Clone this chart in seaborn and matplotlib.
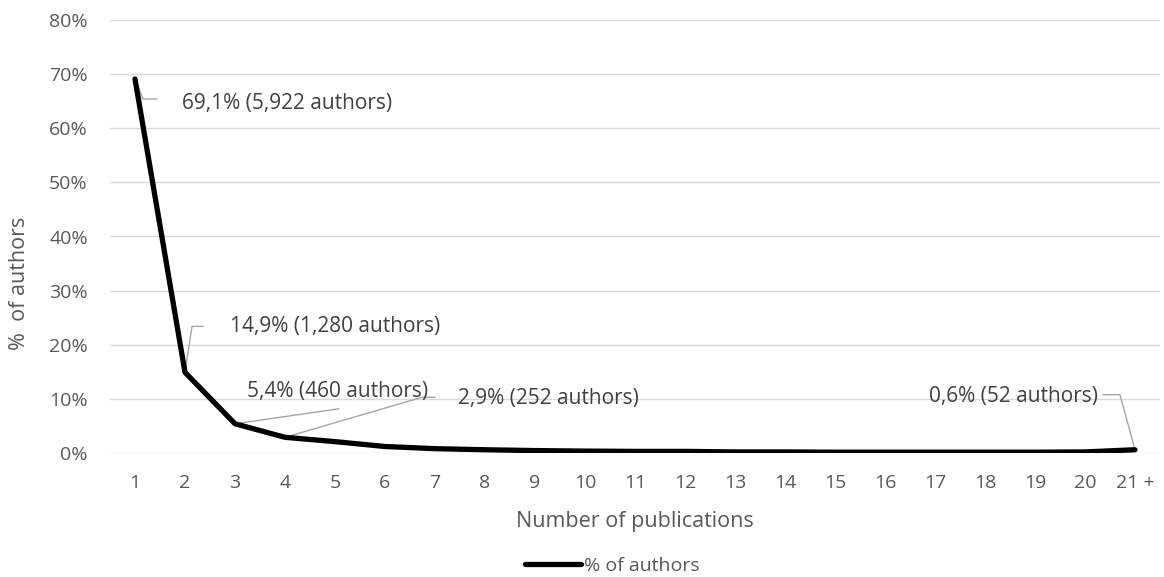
import matplotlib
matplotlib.use("Agg")
import matplotlib.pyplot as plt
import matplotlib.ticker as mticker
import seaborn as sns
import pandas as pd

# Share of authors by number of publications
categories = [str(i) for i in range(1, 21)] + ["21 +"]
share_pct = [69.1, 14.9, 5.4, 2.9, 2.1, 1.2, 0.8, 0.6, 0.45, 0.35,
             0.3, 0.3, 0.2, 0.2, 0.15, 0.15, 0.15, 0.15, 0.15, 0.2, 0.6]
author_counts = {0: 5922, 1: 1280, 2: 460, 3: 252, 20: 52}

df = pd.DataFrame({"Number of publications": categories, "% of authors": share_pct})

sns.set_theme(style="white")
plt.rcParams["font.family"] = ["Open Sans", "DejaVu Sans"]

TEXT = "#595959"
LABEL = "#404040"
LEADER = "#a6a6a6"

W, H = 1164, 577
fig = plt.figure(figsize=(W / 100, H / 100), dpi=100)
ax = fig.add_axes([110 / W, 1 - 453 / H, 1050 / W, 433 / H])

sns.lineplot(data=df, x="Number of publications", y="% of authors", sort=False,
             color="black", linewidth=3.8, ax=ax, label="% of authors",
             solid_joinstyle="round", solid_capstyle="round")

ax.set_xlim(-0.5, len(categories) - 0.5)
ax.set_ylim(0, 80)
ax.yaxis.set_major_locator(mticker.MultipleLocator(10))
ax.yaxis.set_major_formatter(mticker.FuncFormatter(lambda v, p: f"{v:.0f}%"))
ax.grid(axis="y", color="#d9d9d9", linewidth=1.0)
ax.grid(axis="x", visible=False)
ax.set_axisbelow(True)
for s in ax.spines.values():
    s.set_visible(False)
ax.tick_params(axis="both", length=0, labelsize=14, colors=TEXT)
ax.tick_params(axis="x", pad=15)
ax.tick_params(axis="y", pad=16)
ax.set_xlabel("Number of publications", fontsize=15.5, color=TEXT)
ax.set_ylabel("%  of authors", fontsize=15.5, color=TEXT)
ax.xaxis.set_label_coords(0.5, -(522 - 453) / 433)
ax.yaxis.set_label_coords(-(110 - 20) / 1050, (453 - 283) / 433)
ax.xaxis.label.set_va("center")
ax.yaxis.label.set_va("center")

# data labels with leader lines (offsets in display pixels)
def fmt(i):
    return f"{share_pct[i]:.1f}".replace(".", ",") + f"% ({author_counts[i]:,} authors)"

def leader(i, path_px, text_px, ha="left"):
    x0, y0 = ax.transData.transform((i, share_pct[i]))
    xs = [x0] + [x0 + dx for dx, dy in path_px]
    ys = [y0] + [y0 + dy for dx, dy in path_px]
    inv = ax.transData.inverted()
    pts = [inv.transform((a, b)) for a, b in zip(xs, ys)]
    ax.plot([p[0] for p in pts], [p[1] for p in pts], color=LEADER, linewidth=1.0,
            zorder=1, clip_on=False)
    tx, ty = inv.transform((x0 + text_px[0], y0 + text_px[1]))
    ax.text(tx, ty, fmt(i), ha=ha, va="center", fontsize=15, color=LABEL, zorder=3)

fig.canvas.draw()
leader(0, [(8, -20), (22, -20)], (47, -25))
leader(1, [(7, 46), (18, 46)], (45, 46))
leader(2, [(104, 15)], (12, 32))
leader(3, [(137, 40), (150, 40)], (173, 39))
leader(20, [(-15, 55), (-32, 55)], (-37, 53), ha="right")

leg = ax.legend(loc="center", bbox_to_anchor=(612 / W, 1 - 566 / H),
                bbox_transform=fig.transFigure, frameon=False,
                fontsize=14, handlelength=2.9, handletextpad=0.15)
for t in leg.get_texts():
    t.set_color(TEXT)
for h in leg.get_lines():
    h.set_linewidth(3.8)

fig.savefig("out.png", dpi=100)
